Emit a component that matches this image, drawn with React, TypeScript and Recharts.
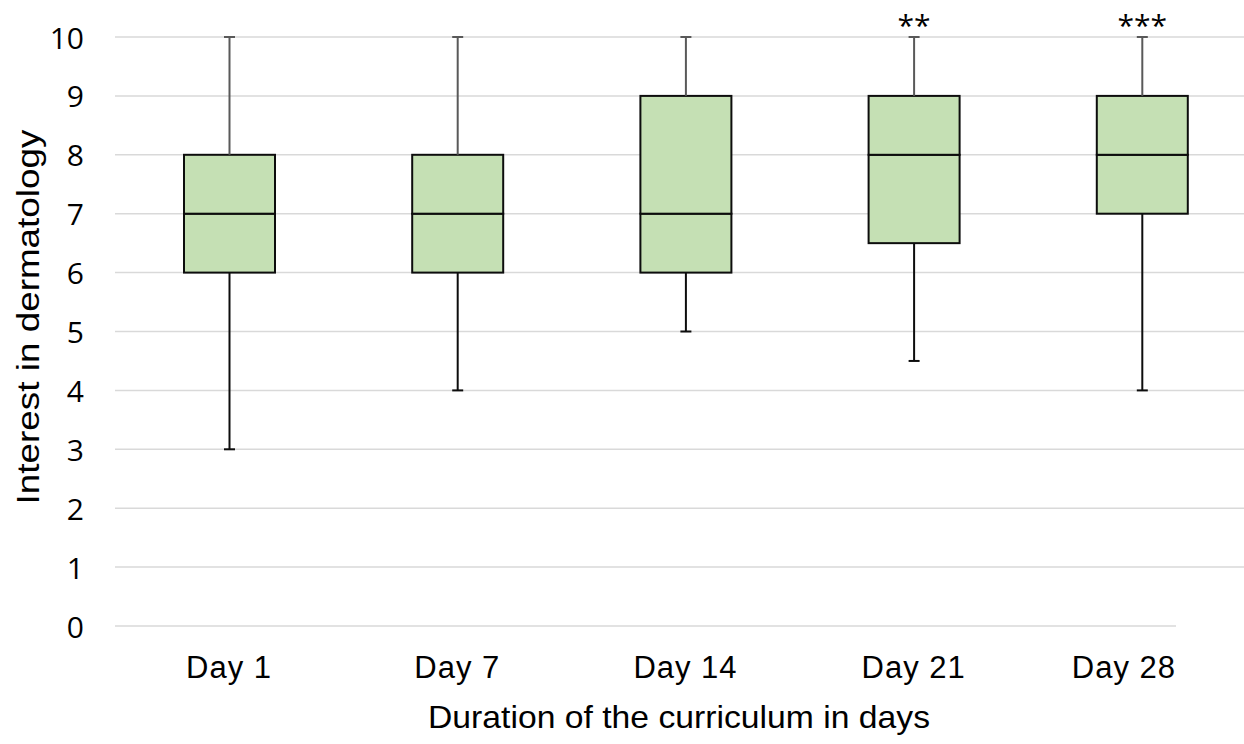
import React from 'react';
import {
    ComposedChart,
    Bar,
    XAxis,
    YAxis,
    CartesianGrid,
    ReferenceLine,
    LabelList,
} from 'recharts';

const CATEGORIES = ['Day 1', 'Day 7', 'Day 14', 'Day 21', 'Day 28'];
const MIN_VALUES = [3, 4, 5, 4.5, 4];
const Q1_VALUES = [6, 6, 6, 6.5, 7];
const MEDIAN_VALUES = [7, 7, 7, 8, 8];
const Q3_VALUES = [8, 8, 9, 9, 9];
const MAX_VALUES = [10, 10, 10, 10, 10];
const SIGNIFICANCE = ['', '', '', '**', '***'];
const Y_TICKS = [0, 1, 2, 3, 4, 5, 6, 7, 8, 9, 10];
const GRID_VALUES = [1, 2, 3, 4, 5, 6, 7, 8, 9, 10];

const BOX_FILL = '#C5E0B4';
const BOX_STROKE = '#0d0d0d';
const UPPER_WHISKER = '#595959';
const GRID = '#d9d9d9';
const CAP = 11;
// visible end of the category axis (labels are kept inside it)
const AXIS_END = 1176;

const data = CATEGORIES.map((name, i) => ({
    name,
    base: MIN_VALUES[i],
    lowerWhisker: Q1_VALUES[i] - MIN_VALUES[i],
    lowerBox: MEDIAN_VALUES[i] - Q1_VALUES[i],
    upperBox: Q3_VALUES[i] - MEDIAN_VALUES[i],
    upperWhisker: MAX_VALUES[i] - Q3_VALUES[i],
    sig: SIGNIFICANCE[i],
}));

const LowerWhisker = (props: any) => {
    const { x, y, width, height } = props;
    const cx = x + width / 2;
    return (
        <g>
            <line x1={cx} y1={y} x2={cx} y2={y + height} stroke={BOX_STROKE} strokeWidth={2} />
            <line x1={cx - CAP / 2} y1={y + height} x2={cx + CAP / 2} y2={y + height} stroke={BOX_STROKE} strokeWidth={2} />
        </g>
    );
};

const UpperWhisker = (props: any) => {
    const { x, y, width, height } = props;
    const cx = x + width / 2;
    return (
        <g>
            <line x1={cx} y1={y} x2={cx} y2={y + height} stroke={UPPER_WHISKER} strokeWidth={2} />
            <line x1={cx - CAP / 2} y1={y} x2={cx + CAP / 2} y2={y} stroke={UPPER_WHISKER} strokeWidth={2} />
        </g>
    );
};

const BoxPart = (props: any) => {
    const { x, y, width, height } = props;
    return <rect x={x} y={y} width={width} height={height} fill={BOX_FILL} stroke={BOX_STROKE} strokeWidth={2} />;
};

const YTick = (props: any) => {
    const { y, payload } = props;
    return (
        <text x={84} y={y} textAnchor="end" dominantBaseline="central" fontFamily="Open Sans" fontSize={30} fill="#000">
            {payload.value}
        </text>
    );
};

const XTick = (props: any) => {
    const { x, payload } = props;
    const label = String(payload.value);
    const approxWidth = label.length * 18;
    const overflow = x + approxWidth / 2 > AXIS_END;
    return (
        <text
            x={overflow ? AXIS_END : x}
            y={667}
            textAnchor={overflow ? 'end' : 'middle'}
            dominantBaseline="central"
            fontFamily="Liberation Sans"
            fontSize={31}
            letterSpacing={1}
            fill="#000"
        >
            {label}
        </text>
    );
};

const SigLabel = (props: any) => {
    const { x, y, width, value } = props;
    if (!value) return null;
    return (
        <text x={x + width / 2} y={y - 1} textAnchor="middle" fontFamily="Open Sans" fontSize={30} fill="#000">
            {value}
        </text>
    );
};

export default function App() {
    return (
        <div style={{ position: 'fixed', left: 0, top: 0, width: 1244, height: 744, overflow: 'hidden', background: '#fff' }}>
            <ComposedChart
                width={1260}
                height={744}
                data={data}
                margin={{ top: 37, right: 4, left: 0, bottom: 0 }}
            >
                <CartesianGrid vertical={false} stroke={GRID} strokeWidth={1.5} horizontalValues={GRID_VALUES} />
                <XAxis dataKey="name" axisLine={false} tickLine={false} height={118} tick={<XTick />} interval={0} />
                <YAxis domain={[0, 10]} ticks={Y_TICKS} axisLine={false} tickLine={false} width={115} tick={<YTick />} interval={0} />
                <ReferenceLine
                    y={0}
                    shape={(p: any) => <line x1={p.x1} y1={p.y1} x2={AXIS_END} y2={p.y2} stroke={GRID} strokeWidth={1.5} />}
                />
                <Bar dataKey="base" stackId="box" barSize={91} fill="transparent" isAnimationActive={false} />
                <Bar dataKey="lowerWhisker" stackId="box" barSize={91} shape={<LowerWhisker />} isAnimationActive={false} />
                <Bar dataKey="lowerBox" stackId="box" barSize={91} shape={<BoxPart />} isAnimationActive={false} />
                <Bar dataKey="upperBox" stackId="box" barSize={91} shape={<BoxPart />} isAnimationActive={false} />
                <Bar dataKey="upperWhisker" stackId="box" barSize={91} shape={<UpperWhisker />} isAnimationActive={false}>
                    <LabelList dataKey="sig" content={<SigLabel />} />
                </Bar>
            </ComposedChart>
            <svg width={1244} height={744} style={{ position: 'absolute', left: 0, top: 0, pointerEvents: 'none' }}>
                <text
                    x={28}
                    y={317}
                    transform="rotate(-90 28 317)"
                    textAnchor="middle"
                    dominantBaseline="central"
                    fontFamily="Liberation Sans"
                    fontSize={31}
                    textLength={375}
                    lengthAdjust="spacingAndGlyphs"
                    fill="#000"
                >
                    Interest in dermatology
                </text>
                <text
                    x={679}
                    y={728}
                    textAnchor="middle"
                    fontFamily="Liberation Sans"
                    fontSize={32}
                    textLength={502}
                    lengthAdjust="spacingAndGlyphs"
                    fill="#000"
                >
                    Duration of the curriculum in days
                </text>
            </svg>
        </div>
    );
}
